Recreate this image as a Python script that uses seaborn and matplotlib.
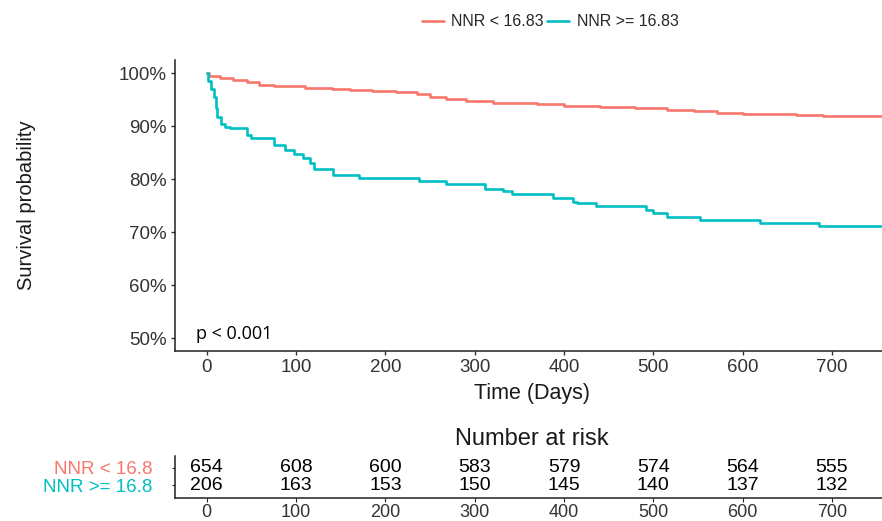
import numpy as np
import pandas as pd
import matplotlib
matplotlib.use("Agg")
import matplotlib.pyplot as plt
import seaborn as sns

# Kaplan-Meier step points (time in days, survival in %)
low_time = [0, 3, 15, 30, 45, 58, 75, 110, 140, 160, 185, 212, 235, 250, 268, 290, 320,
            370, 400, 440, 480, 515, 545, 571, 600, 660, 690, 715, 756]
low_surv = [100, 99.4, 99.1, 98.8, 98.4, 97.8, 97.5, 97.3, 97.1, 96.9, 96.7, 96.4, 96.0,
            95.6, 95.1, 94.7, 94.3, 94.1, 93.9, 93.6, 93.4, 93.1, 92.8, 92.5, 92.3, 92.2,
            92.0, 91.9, 91.9]

high_time = [0, 2, 5, 8, 10, 12, 16, 20, 26, 45, 50, 75, 88, 98, 108, 116, 120, 141, 171,
             238, 268, 312, 332, 342, 388, 410, 414, 436, 492, 500, 515, 552, 619, 686, 756]
high_surv = [100, 98.5, 97.0, 95.5, 93.5, 91.8, 90.5, 89.8, 89.6, 88.3, 87.7, 86.5, 85.5,
             84.8, 84.0, 83.0, 82.0, 80.8, 80.3, 79.7, 79.2, 78.2, 77.7, 77.2, 76.5, 75.8,
             75.5, 75.0, 74.2, 73.6, 72.9, 72.3, 71.8, 71.2, 71.2]

group_names = ["NNR < 16.83", "NNR >= 16.83"]
risk_labels = ["NNR < 16.8", "NNR >= 16.8"]
risk_times = [0, 100, 200, 300, 400, 500, 600, 700]
risk_low = [654, 608, 600, 583, 579, 574, 564, 555]
risk_high = [206, 163, 153, 150, 145, 140, 137, 132]

colors = ["#F8766D", "#00BFC4"]

df = pd.concat([
    pd.DataFrame({"time": low_time, "surv": low_surv, "group": group_names[0]}),
    pd.DataFrame({"time": high_time, "surv": high_surv, "group": group_names[1]}),
])

sns.set_style("ticks")
plt.rcParams["font.family"] = ["Liberation Sans", "DejaVu Sans"]

fig = plt.figure(figsize=(8.82, 5.21), dpi=100)
ax = fig.add_axes([0.1984, 0.326, 0.8016, 0.559])
ax_r = fig.add_axes([0.1984, 0.044, 0.8016, 0.081])

sns.lineplot(data=df, x="time", y="surv", hue="group", palette=colors,
             drawstyle="steps-post", linewidth=1.9, ax=ax, legend=True)

xlim = (-35.5, 756)
ax.set_xlim(*xlim)
ax.set_ylim(47.6, 102.5)
ax.set_xticks(risk_times)
ax.set_yticks([50, 60, 70, 80, 90, 100])
ax.set_yticklabels([f"{v}%" for v in [50, 60, 70, 80, 90, 100]])
ax.tick_params(labelsize=13.5, labelcolor="#333333", length=3, width=1, pad=3, color="#333333")
sns.despine(ax=ax)
for s in ["left", "bottom"]:
    ax.spines[s].set_linewidth(1.1)
    ax.spines[s].set_color("#222222")
ax.set_xlabel("Time (Days)", fontsize=15.5, color="#1a1a1a")
ax.set_ylabel("Survival probability", fontsize=14.5, color="#1a1a1a")
ax.xaxis.set_label_coords(0.505, -0.11)
ax.yaxis.set_label_coords(-0.197, 0.5)
ax.text(-12, 49.2, "p < 0.001", fontsize=13, family=["Open Sans", "DejaVu Sans"],
        va="bottom", ha="left", color="black")

handles, labels = ax.get_legend_handles_labels()
ax.get_legend().remove()
fig.legend(handles, labels, loc="center", bbox_to_anchor=(550 / 882, 1 - 22 / 521),
           ncol=2, frameon=False, fontsize=11.5, handlelength=1.4, handletextpad=0.45,
           columnspacing=0.2)

# number at risk table
ax_r.set_xlim(*xlim)
ax_r.set_ylim(-0.75, 1.7)
for t, a, b in zip(risk_times, risk_low, risk_high):
    ax_r.text(t, 1, str(a), ha="center", va="center", fontsize=14, color="black")
    ax_r.text(t, 0, str(b), ha="center", va="center", fontsize=14, color="black")
ax_r.set_xticks(risk_times)
ax_r.set_yticks([1, 0])
ax_r.set_yticklabels(risk_labels)
for lab, c in zip(ax_r.get_yticklabels(), colors):
    lab.set_color(c)
ax_r.tick_params(axis="y", labelsize=13.5, length=2.5, pad=13.5)
ax_r.tick_params(axis="x", labelsize=13, labelcolor="#333333", length=3, pad=1)
sns.despine(ax=ax_r)
for s in ["left", "bottom"]:
    ax_r.spines[s].set_linewidth(1.1)
    ax_r.spines[s].set_color("#222222")
ax_r.set_xlabel("")
ax_r.set_title("Number at risk", fontsize=17, color="#1a1a1a", pad=8, x=0.505)

fig.savefig("out.png", dpi=100)
